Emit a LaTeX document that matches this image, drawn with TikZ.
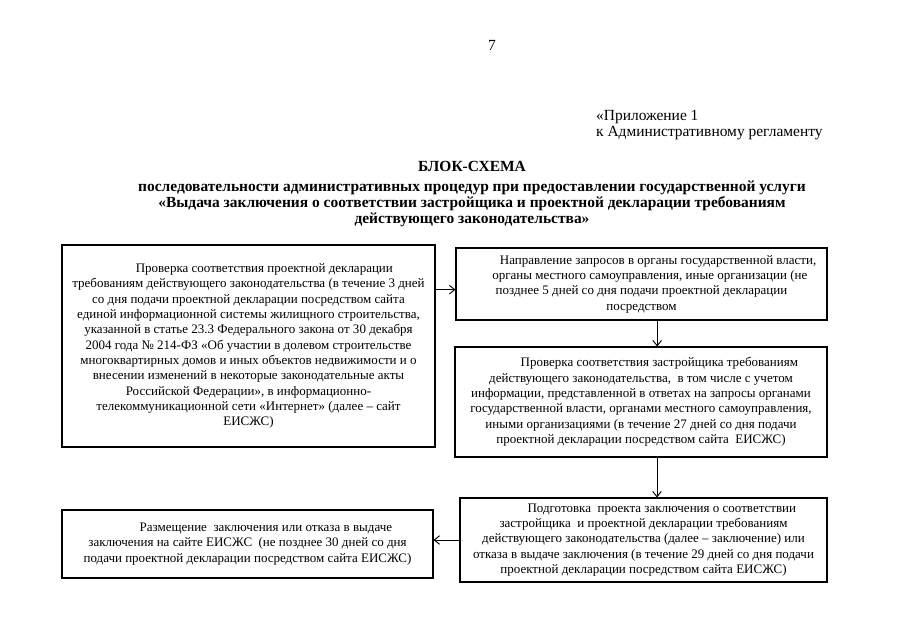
\documentclass[tikz,border=0pt]{standalone}
\usepackage{fontspec}
\setmainfont{Liberation Serif}
\usetikzlibrary{positioning,arrows.meta}

\begin{document}
\begin{tikzpicture}[x=0.03cm,y=-0.03cm,font=\fontsize{11.1}{13.1}\selectfont,
  blok/.style={draw=black,line width=0.9pt,align=center,inner sep=0pt},
  shapka/.style={font=\fontsize{13.2}{13.6}\selectfont},
  strelka/.style={-{Straight Barb[length=1.6mm,width=2.6mm]},line width=0.8pt}]
\useasboundingbox (0,0) rectangle (905,640);

% шапка
\node[shapka] (nomer) at (492,45) {7};
\node[shapka,anchor=west,align=left] (prilozhenie) at (592,125) {«Приложение 1\\к Административному\ регламенту};
\node[shapka,font=\fontsize{13.2}{13.6}\selectfont\bfseries,align=center] (zagolovok) at (472,194)
  {БЛОК-СХЕМА\\[3pt]
   последовательности административных процедур при предоставлении государственной услуги\\
   «Выдача заключения о соответствии застройщика и проектной декларации требованиям\\
   действующего законодательства»};

% блоки
\node[blok,minimum width=11.19cm,minimum height=6.06cm] (proverkaDekl) at (248.5,346)
  {\hspace*{0.95cm}Проверка соответствия проектной декларации\\
   требованиям действующего законодательства (в течение 3 дней\\
   со дня подачи проектной декларации посредством сайта\\
   единой информационной системы жилищного строительства,\\
   указанной в статье 23.3 Федерального закона от 30 декабря\\
   2004 года № 214-ФЗ «Об участии в долевом строительстве\\
   многоквартирных домов и иных объектов недвижимости и о\\
   внесении изменений в некоторые законодательные акты\\
   Российской Федерации», в информационно-\\
   телекоммуникационной сети «Интернет» (далее – сайт\\
   ЕИСЖС)};
\node[blok,minimum width=11.13cm,minimum height=2.16cm] (zaprosy) at (641.5,284)
  {\hspace*{1.0cm}Направление запросов в органы государственной власти,\\
   \hspace*{0.5cm}органы местного самоуправления, иные организации (не\\
   позднее 5 дней со дня подачи проектной декларации\\
   посредством};
\node[blok,minimum width=11.16cm,minimum height=3.3cm] (proverkaZastr) at (641,402)
  {\hspace*{1.1cm}Проверка соответствия застройщика требованиям\\
   действующего законодательства,\ \ в том числе с учетом\\
   информации, представленной в ответах на запросы органами\\
   государственной власти, органами местного самоуправления,\\
   иными организациями (в течение 27 дней со дня подачи\\
   проектной декларации посредством сайта\ \ ЕИСЖС)};
\node[blok,minimum width=11.01cm,minimum height=2.52cm] (podgotovka) at (643.5,540)
  {\hspace*{1.1cm}Подготовка\ \ проекта заключения о соответствии\\
   застройщика\ \ и проектной декларации требованиям\\
   действующего законодательства (далее – заключение) или\\
   отказа в выдаче заключения (в течение 29 дней со дня подачи\\
   проектной декларации посредством сайта ЕИСЖС)};
\node[blok,minimum width=11.13cm,minimum height=2.04cm] (razmeshchenie) at (247.5,544)
  {\hspace*{1.1cm}Размещение\ \ заключения или отказа в выдаче\\
   заключения на сайте ЕИСЖС\ \ (не позднее 30 дней со дня\\
   подачи проектной декларации посредством сайта ЕИСЖС)};

% стрелки
\draw[strelka] ([yshift=-0.17cm]proverkaDekl.east |- zaprosy.west) -- ([yshift=-0.17cm]zaprosy.west);
\draw[strelka] ([xshift=0.47cm]zaprosy.south) -- ([xshift=0.47cm]zaprosy.south |- proverkaZastr.north);
\draw[strelka] ([xshift=0.48cm]proverkaZastr.south) -- ([xshift=0.48cm]proverkaZastr.south |- podgotovka.north);
\draw[strelka] (podgotovka.west) -- (podgotovka.west -| razmeshchenie.east);
\end{tikzpicture}
\end{document}
